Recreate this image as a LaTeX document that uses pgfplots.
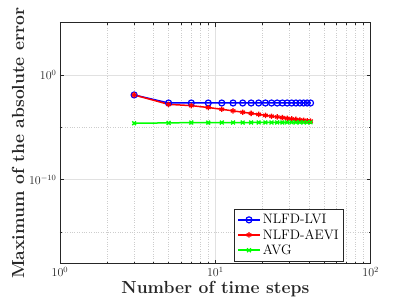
\documentclass[border=0pt]{standalone}
\usepackage{pgfplots}
\pgfplotsset{compat=1.18}
\definecolor{axgray}{RGB}{38,38,38}
\definecolor{gridmaj}{RGB}{225,225,225}
\definecolor{gridmin}{RGB}{205,205,205}
\begin{document}
\begin{tikzpicture}
\begin{axis}[
  name=ax,
  scale only axis,
  width=310.7pt, height=240.8pt,
  xmode=log, ymode=log,
  xmin=1, xmax=100, ymin=1e-18, ymax=1e5,
  xtick={1,10,100},
  ytick={1e-10,1},
  minor ytick={1e-15,1e-5,1e5},
  grid=both,
  major grid style={gridmaj, line width=0.6pt},
  minor grid style={gridmin, dotted, line width=0.5pt},
  axis line style={axgray, line width=0.6pt},
  tick style={axgray, line width=0.5pt},
  tick align=inside,
  major tick length=4pt, minor tick length=2pt,
  tick label style={font=\fontsize{12}{14}\selectfont, text=axgray},
  xlabel={Number of time steps},
  ylabel={Maximum of the absolute error},
  label style={font=\fontsize{17.5}{20}\selectfont\bfseries, text=axgray},
  xlabel style={yshift=2pt},
  ylabel style={yshift=-2pt},
  legend style={at={(0.914,0.01)}, anchor=south east, font=\fontsize{13.7}{16}\selectfont,
    draw=axgray, fill=white, line width=0.5pt, row sep=0pt, inner sep=3pt},
  legend cell align=left,
  legend image code/.code={
    \draw[mark repeat=2,mark phase=2,#1] plot coordinates {(0pt,0pt) (11pt,0pt) (22pt,0pt)};
  },
]
\addplot[blue, line width=1.5pt, mark=o, mark size=3pt, mark options={line width=1.2pt}] coordinates {
(3,0.01259) (5,2.14e-3) (7,2.14e-3) (9,2.14e-3) (11,2.14e-3) (13,2.14e-3) (15,2.14e-3) (17,2.14e-3) (19,2.14e-3) (21,2.14e-3)
(23,2.14e-3) (25,2.14e-3) (27,2.14e-3) (29,2.14e-3) (31,2.14e-3) (33,2.14e-3) (35,2.14e-3) (37,2.14e-3) (39,2.14e-3) (41,2.14e-3)
};
\addlegendentry{NLFD-LVI}
\addplot[red, line width=1.5pt, mark=asterisk, mark size=2.7pt, mark options={line width=1.3pt}] coordinates {
(3,0.01259) (5,1.585e-3) (7,1.202e-3) (9,7.94e-4) (11,5.37e-4) (13,3.80e-4) (15,2.82e-4) (17,2.19e-4) (19,1.74e-4) (21,1.41e-4)
(23,1.17e-4) (25,1.00e-4) (27,8.51e-5) (29,7.41e-5) (31,6.46e-5) (33,5.75e-5) (35,5.13e-5) (37,4.68e-5) (39,4.27e-5) (41,3.98e-5)
};
\addlegendentry{NLFD-AEVI}
\addplot[green, line width=1.5pt, mark=x, mark size=2.7pt, mark options={line width=1.3pt}] coordinates {
(3,2.51e-5) (5,2.69e-5) (7,2.88e-5) (9,2.88e-5) (11,2.88e-5) (13,2.88e-5) (15,2.88e-5) (17,2.95e-5) (19,2.95e-5) (21,2.95e-5)
(23,2.95e-5) (25,2.95e-5) (27,2.95e-5) (29,3.02e-5) (31,3.02e-5) (33,3.02e-5) (35,3.02e-5) (37,3.02e-5) (39,3.02e-5) (41,3.02e-5)
};
\addlegendentry{AVG}
\end{axis}
\pgfresetboundingbox
\path[use as bounding box] ([shift={(-60pt,-43.7pt)}]ax.south west) rectangle ([shift={(38.3pt,22.7pt)}]ax.north east);
\end{tikzpicture}
\end{document}
